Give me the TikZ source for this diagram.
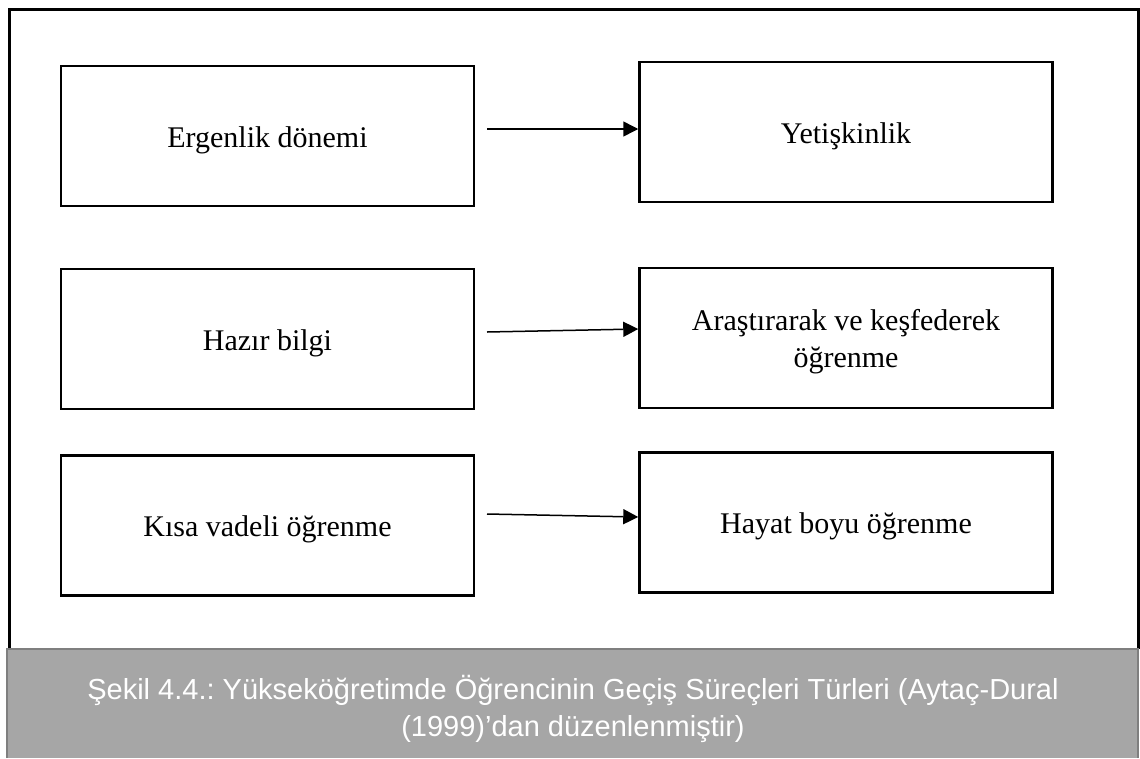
\documentclass[tikz,border=0pt]{standalone}
\usepackage{fontspec}
\setmainfont{Liberation Serif}
\newfontfamily\capfont{Liberation Sans}
\usetikzlibrary{arrows.meta}
\definecolor{capgray}{HTML}{A6A6A6}
\definecolor{capedge}{HTML}{7F7F7F}
\frenchspacing
\tikzset{
	stage/.style={draw, line width=2.5pt, minimum width=413pt, minimum height=140pt, inner sep=0pt, align=center, text height=28pt, text depth=6pt, font=\fontsize{30}{37}\selectfont},
	flow/.style={->, line width=1.5pt}
}
\begin{document}
\begin{tikzpicture}[x=1pt, y=-1pt, line join=miter, >={Triangle[length=15pt, width=15pt]}]
	\useasboundingbox (0,0) rectangle (1140,758);
	% frame and caption
	\draw[line width=3pt] (9,649) -- (9,9) -- (1138,9) -- (1138,649);
	\draw[capedge, line width=1.5pt, fill=capgray] (7,758) -- (7,649) -- (1138,649) -- (1138,758);
	\node[font=\capfont\fontsize{29}{37}\selectfont, text=white, align=center] (cap) at (573,708.5) {Şekil 4.4.: Yükseköğretimde Öğrencinin Geçiş Süreçleri Türleri (Aytaç-Dural\\(1999)’dan düzenlenmiştir)};
	% boxes
	\node[stage] (erg) at (267.5,136) {Ergenlik dönemi};
	\node[stage] (yet) at (846,132) {Yetişkinlik};
	\node[stage] (haz) at (267.5,339) {Hazır bilgi};
	\node[stage, text height=65pt] (ara) at (846,338) {Araştırarak ve keşfederek\\öğrenme};
	\node[stage] (kis) at (267.5,525.5) {Kısa vadeli öğrenme};
	\node[stage] (hay) at (846,522.5) {Hayat boyu öğrenme};
	% arrows
	\coordinate (s1) at (487,129);
	\coordinate (s2) at (487,332);
	\coordinate (s3) at (487,514);
	\draw[flow] (s1) -- ([yshift=3pt]yet.west);
	\draw[flow] (s2) -- ([yshift=9pt]ara.west);
	\draw[flow] (s3) -- ([yshift=5.5pt]hay.west);
\end{tikzpicture}
\end{document}
